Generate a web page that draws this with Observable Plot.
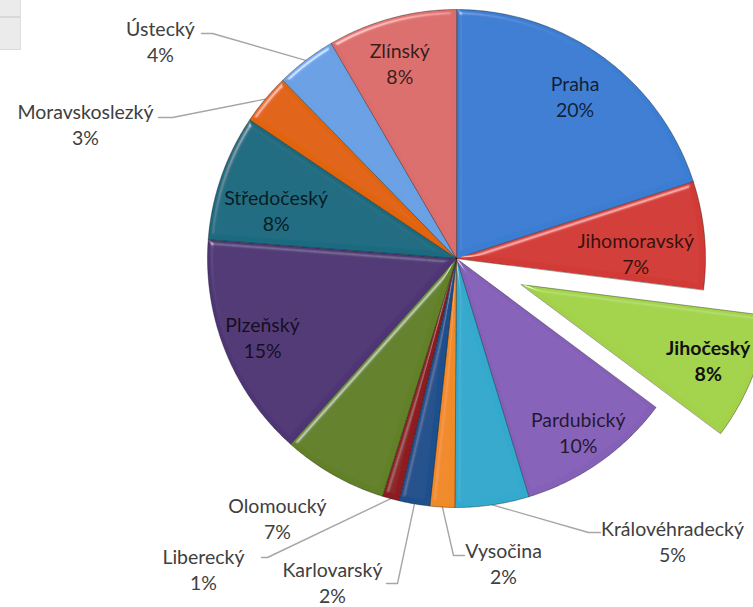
<!DOCTYPE html>
<html>
<head>
<meta charset="utf-8">
<script src="https://cdn.jsdelivr.net/npm/d3@7"></script>
<script src="https://cdn.jsdelivr.net/npm/@observablehq/plot@0.6"></script>
<style>
  html, body { margin: 0; padding: 0; background: #fff; }
  #wrap { position: relative; width: 753px; height: 607px; overflow: hidden; }
  #corner { position: absolute; left: 0; top: 0; width: 20px; height: 49px; background: #ebebeb;
            border-right: 1px solid #dcdcdc; border-bottom: 1px solid #dcdcdc; }
  #corner::after { content: ""; position: absolute; left: 0; top: 16px; width: 20px; height: 2px; background: #d8d8d8; }
</style>
</head>
<body>
<div id="wrap"><div id="corner"></div></div>
<script>
// ---- data (clockwise from 12 o'clock) ----
const regions = ["Praha","Jihomoravský","Jihočeský","Pardubický","Královéhradecký","Vysočina","Karlovarský",
                 "Liberecký","Olomoucký","Plzeňský","Středočeský","Moravskoslezký","Ústecký","Zlínský"];
const shares  = [20.0, 7.0, 8.2, 10.1, 4.8, 1.6, 2.0, 1.1, 6.8, 14.6, 8.2, 3.3, 3.9, 8.4];
const colors  = ["#3a7dd2","#d23a35","#a3d24a","#8560b8","#31a9cd","#f08a26","#1e4f8c",
                 "#8c1e21","#628027","#4f3676","#1a6b80","#e0640a","#6ba0e4","#db6d6c"];
const explodedRegions = ["Jihočeský"];
const boldRegions = ["Jihočeský"];

// ---- layout ----
const W = 753, H = 607, CX = 456, CY = 258, R = 249;   // pie centre & radius in px
const EXPLODE = 0.28;                                  // explode distance (in radii)
// inside labels: [angle offset deg, radius]
const insideLabels = {
  "Praha": [0, 0.81], "Jihomoravský": [3.5, 0.72], "Jihočeský": [0, 0.81], "Pardubický": [0, 0.85],
  "Plzeňský": [0, 0.84], "Středočeský": [-4, 0.75], "Zlínský": [-1, 0.82]
};
// outside labels: label centre, elbow, line end (px)
const outsideLabels = {
  "Ústecký":         {lab:[160, 40], elbow:[212, 33], end:[201, 33]},
  "Moravskoslezký":  {lab:[85, 123], elbow:[172, 117], end:[158, 117]},
  "Olomoucký":       {lab:[277, 517]},
  "Liberecký":       {lab:[203, 568], elbow:[267, 557], end:[261, 557]},
  "Karlovarský":     {lab:[332, 581], elbow:[397, 583], end:[386, 583]},
  "Vysočina":        {lab:[503, 562], elbow:[453, 555], end:[464, 555]},
  "Královéhradecký": {lab:[672, 540], elbow:[588, 532], end:[600, 532]}
};
const ux = px => (px - CX) / R, uy = py => (CY - py) / R;

// ---- geometry from data ----
const arcs = d3.pie().sort(null).value(d => d)(shares);
const total = d3.sum(shares);
const slices = [], inside = [], outside = [], leaders = [];
arcs.forEach((a, i) => {
  const region = regions[i];
  const mid = (a.startAngle + a.endAngle) / 2;
  const off = explodedRegions.includes(region) ? EXPLODE : 0;
  const ox = off * Math.sin(mid), oy = off * Math.cos(mid);
  slices.push({region, x: ox, y: oy});
  const n = Math.max(3, Math.ceil((a.endAngle - a.startAngle) / (Math.PI / 360)));
  for (let k = 0; k <= n; k++) {
    const t = a.startAngle + (a.endAngle - a.startAngle) * k / n;
    slices.push({region, x: ox + Math.sin(t), y: oy + Math.cos(t)});
  }
  const label = `${region}\n${Math.round(shares[i] / total * 100)}%`;
  if (insideLabels[region]) {
    const [dA, r] = insideLabels[region];
    const t = mid + dA * Math.PI / 180;
    inside.push({region, label, bold: boldRegions.includes(region),
                 x: ox + r * Math.sin(t), y: oy + r * Math.cos(t)});
  } else {
    const o = outsideLabels[region];
    outside.push({region, label, x: ux(o.lab[0]), y: uy(o.lab[1])});
    if (o.elbow) {
      leaders.push({region, x: Math.sin(mid), y: Math.cos(mid)});
      leaders.push({region, x: ux(o.elbow[0]), y: uy(o.elbow[1])});
      leaders.push({region, x: ux(o.end[0]), y: uy(o.end[1])});
    }
  }
});

const font = "Lato, 'Open Sans', sans-serif";
const FS = 19.5, LH = 1.33;
const chart = Plot.plot({
  width: W, height: H,
  margin: 0,
  style: {fontFamily: font, background: "transparent"},
  x: {domain: [ux(0), ux(W)], axis: null},
  y: {domain: [uy(H), uy(0)], axis: null},
  color: {domain: regions, range: colors},
  marks: [
    Plot.line(leaders, {x: "x", y: "y", z: "region", stroke: "#a6a6a6", strokeWidth: 1.4}),
    Plot.line(slices, {x: "x", y: "y", z: "region", fill: "region", stroke: "rgba(0,0,0,0.35)",
                       strokeWidth: 1, curve: "linear-closed"}),
    Plot.text(inside.filter(d => !d.bold), {x: "x", y: "y", text: "label", fontSize: FS, lineHeight: LH,
                       fill: "#000", fillOpacity: 0.75, fontFamily: font}),
    Plot.text(inside.filter(d => d.bold), {x: "x", y: "y", text: "label", fontSize: FS, lineHeight: LH,
                       fill: "#111", fontWeight: "bold", fontFamily: font}),
    Plot.text(outside, {x: "x", y: "y", text: "label", fontSize: FS, lineHeight: LH,
                       fill: "#404040", fontFamily: font})
  ]
});

// subtle bevel lighting on slices (edges only)
const svg = d3.select(chart);
const defs = svg.insert("defs", ":first-child");
const f = defs.append("filter").attr("id", "bevel").attr("x", "-5%").attr("y", "-5%").attr("width", "110%").attr("height", "110%");
f.append("feGaussianBlur").attr("in", "SourceAlpha").attr("stdDeviation", 2.5).attr("result", "blur");
const sp = f.append("feSpecularLighting").attr("in", "blur").attr("surfaceScale", 4).attr("specularConstant", 0.8)
  .attr("specularExponent", 35).attr("lighting-color", "#ffffff").attr("result", "spec");
sp.append("feDistantLight").attr("azimuth", 235).attr("elevation", 35);
f.append("feComposite").attr("in", "spec").attr("in2", "SourceAlpha").attr("operator", "in").attr("result", "specOut");
f.append("feComposite").attr("in", "SourceGraphic").attr("in2", "specOut").attr("operator", "arithmetic")
  .attr("k1", 0).attr("k2", 1).attr("k3", 0.6).attr("k4", 0);
svg.selectAll("g[aria-label='line'] path").filter(function () {
  return d3.select(this).attr("fill") && d3.select(this).attr("fill") !== "none";
}).attr("filter", "url(#bevel)");

document.getElementById("wrap").prepend(chart);
</script>
</body>
</html>
